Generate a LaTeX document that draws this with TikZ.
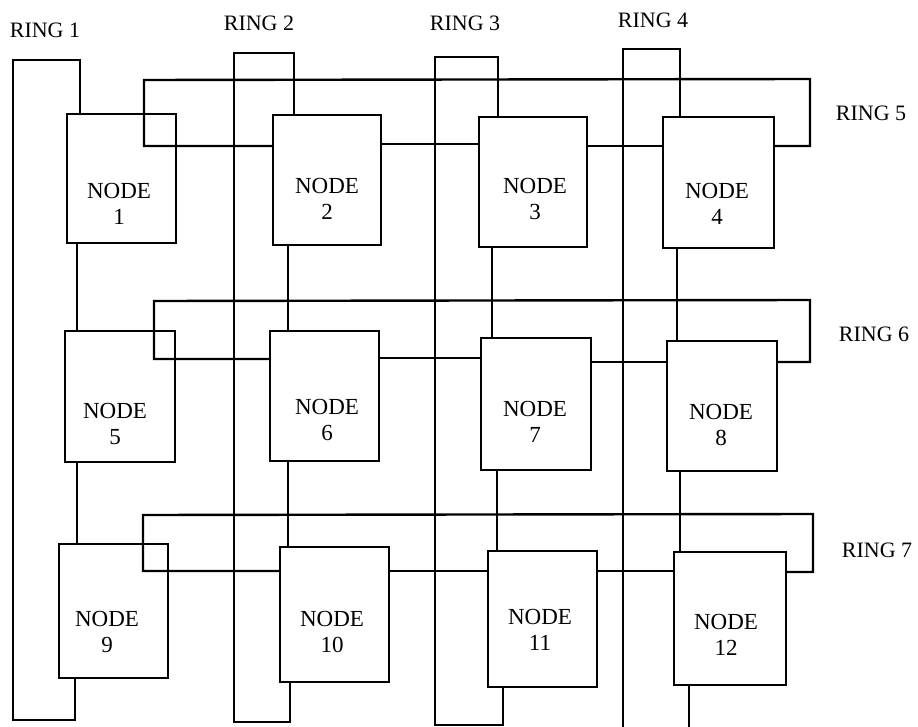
\documentclass[tikz,border=0pt]{standalone}
\usepackage{fontspec}
\setmainfont{Liberation Serif}
\begin{document}
\begin{tikzpicture}[x=1pt,y=-1pt,line width=2.4pt,line join=miter,
  box/.style={draw,rectangle,inner sep=0pt},
  lbl/.style={anchor=north,inner sep=0pt,align=center,font=\fontsize{23}{26}\selectfont},
  ringlbl/.style={anchor=north,inner sep=0pt,font=\fontsize{22}{26}\selectfont}]
\useasboundingbox (0,0) rectangle (918,727);
% nodes
\node[box,minimum width=109,minimum height=129] (n1) at (121.5,178.5) {};
\node[box,minimum width=108,minimum height=130] (n2) at (327,180) {};
\node[box,minimum width=108,minimum height=130] (n3) at (533,182) {};
\node[box,minimum width=111,minimum height=131] (n4) at (718.5,182.5) {};
\node[box,minimum width=110,minimum height=131] (n5) at (120,396.5) {};
\node[box,minimum width=109,minimum height=130] (n6) at (324.5,396) {};
\node[box,minimum width=110,minimum height=132] (n7) at (536,404) {};
\node[box,minimum width=110,minimum height=130] (n8) at (722,406) {};
\node[box,minimum width=109,minimum height=134] (n9) at (113.5,611) {};
\node[box,minimum width=109,minimum height=135] (n10) at (334.5,614.5) {};
\node[box,minimum width=109,minimum height=136] (n11) at (542.5,619) {};
\node[box,minimum width=112,minimum height=133] (n12) at (730,618.5) {};
% node texts
\node[lbl] (t1) at (119,182) {NODE\\1};
\node[lbl] (t2) at (327,177) {NODE\\2};
\node[lbl] (t3) at (535,177) {NODE\\3};
\node[lbl] (t4) at (717,182) {NODE\\4};
\node[lbl] (t5) at (115,402) {NODE\\5};
\node[lbl] (t6) at (327,398) {NODE\\6};
\node[lbl] (t7) at (535,400) {NODE\\7};
\node[lbl] (t8) at (721,403) {NODE\\8};
\node[lbl] (t9) at (107,610) {NODE\\9};
\node[lbl] (t10) at (332,610) {NODE\\10};
\node[lbl] (t11) at (540,608) {NODE\\11};
\node[lbl] (t12) at (726,613) {NODE\\12};
% ring labels
\node[ringlbl] (l1) at (45,22) {RING 1};
\node[ringlbl] (l2) at (259,15) {RING 2};
\node[ringlbl] (l3) at (465,15) {RING 3};
\node[ringlbl] (l4) at (653,12) {RING 4};
\node[ringlbl] (l5) at (871,105) {RING 5};
\node[ringlbl] (l6) at (874,326) {RING 6};
\node[ringlbl] (l7) at (877,542) {RING 7};
% coordinates
\coordinate (r1a) at (80,60);
\coordinate (r1b) at (13,60);
\coordinate (r1c) at (13,720);
\coordinate (r1d) at (75,720);
\coordinate (c1) at (77,0);
\coordinate (r2a) at (294,53);
\coordinate (r2b) at (234,53);
\coordinate (r2c) at (234,722);
\coordinate (r2d) at (290,722);
\coordinate (c2) at (288,0);
\coordinate (r3a) at (498,57);
\coordinate (r3b) at (435,57);
\coordinate (r3c) at (435,725);
\coordinate (r3d) at (503,725);
\coordinate (c3a) at (492,0);
\coordinate (c3b) at (497,0);
\coordinate (r4a) at (680,49);
\coordinate (r4b) at (623,49);
\coordinate (r4c) at (623,727);
\coordinate (r4d) at (689,727);
\coordinate (c4a) at (677,0);
\coordinate (c4b) at (680,0);
\coordinate (r5l) at (144,146);
\coordinate (r5tl) at (144,80);
\coordinate (r5tr) at (810,79);
\coordinate (r5r) at (810,146);
\coordinate (r5m) at (0,144);
\coordinate (r6l) at (154,359);
\coordinate (r6tl) at (154,301);
\coordinate (r6tr) at (810,300);
\coordinate (r6r) at (810,362);
\coordinate (r6m) at (0,358);
\coordinate (r7l) at (143,571);
\coordinate (r7tl) at (143,515);
\coordinate (r7tr) at (813,514);
\coordinate (r7r) at (813,572);
% ring 1
\draw (n1.north -| r1a) -- (r1a) -- (r1b) -- (r1c) -- (r1d) -- (n9.south -| r1d);
\draw (n1.south -| c1) -- (n5.north -| c1);
\draw (n5.south -| c1) -- (n9.north -| c1);
% ring 2
\draw (n2.north -| r2a) -- (r2a) -- (r2b) -- (r2c) -- (r2d) -- (n10.south -| r2d);
\draw (n2.south -| c2) -- (n6.north -| c2);
\draw (n6.south -| c2) -- (n10.north -| c2);
% ring 3
\draw (n3.north -| r3a) -- (r3a) -- (r3b) -- (r3c) -- (r3d) -- (n11.south -| r3d);
\draw (n3.south -| c3a) -- (n7.north -| c3a);
\draw (n7.south -| c3b) -- (n11.north -| c3b);
% ring 4
\draw (n4.north -| r4a) -- (r4a) -- (r4b) -- (r4c);
\draw (n12.south -| r4d) -- (r4d);
\draw (n4.south -| c4a) -- (n8.north -| c4a);
\draw (n8.south -| c4b) -- (n12.north -| c4b);
% ring 5
\draw (n2.west |- r5l) -- (r5l) -- (r5tl) -- (r5tr) -- (r5r) -- (n4.east |- r5r);
\draw (n2.east |- r5m) -- (n3.west |- r5m);
\draw (n3.east |- r5l) -- (n4.west |- r5l);
% ring 6
\draw (n6.west |- r6l) -- (r6l) -- (r6tl) -- (r6tr) -- (r6r) -- (n8.east |- r6r);
\draw (n6.east |- r6m) -- (n7.west |- r6m);
\draw (n7.east |- r6r) -- (n8.west |- r6r);
% ring 7
\draw (n10.west |- r7l) -- (r7l) -- (r7tl) -- (r7tr) -- (r7r) -- (n12.east |- r7r);
\draw (n10.east |- r7l) -- (n11.west |- r7l);
\draw (n11.east |- r7l) -- (n12.west |- r7l);
\end{tikzpicture}
\end{document}
